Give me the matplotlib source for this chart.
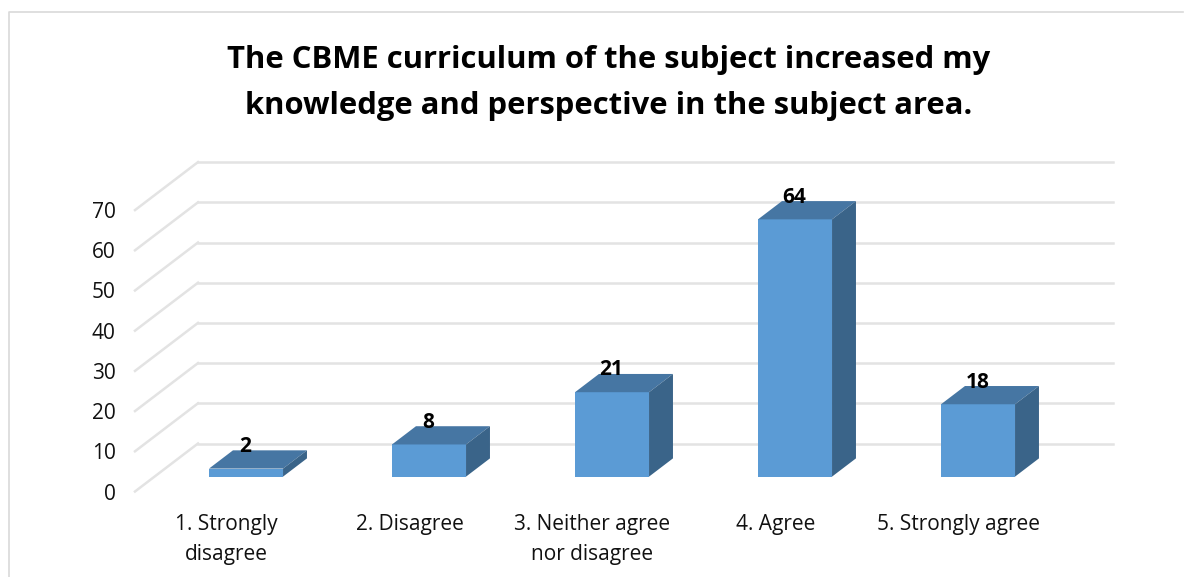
import matplotlib
matplotlib.use("Agg")
import matplotlib.pyplot as plt
from matplotlib.patches import Polygon

categories = ["1. Strongly\ndisagree", "2. Disagree", "3. Neither agree\nnor disagree", "4. Agree", "5. Strongly agree"]
values = [2, 8, 21, 64, 18]
y_ticks = [0, 10, 20, 30, 40, 50, 60, 70]
title = "The CBME curriculum of the subject increased my\nknowledge and perspective in the subject area."

W, H = 1194, 577
plt.rcParams["font.family"] = ["Open Sans", "DejaVu Sans"]

GRID = "#e3e3e3"
FRONT = "#5b9bd5"
TOP = "#4676a3"
SIDE = "#3a6489"

# 3d look: the wall is shifted by this much in data units
cat_px = 183.0
val_px = 4.02
depth_x = 63 / cat_px
depth_y = 48 / val_px
bar_w = 74 / cat_px
bar_front = 0.31
bar_back = 0.69

fig = plt.figure(figsize=(W / 100, H / 100), dpi=100)

# axes is the front plane of the 3d box
left, bottom = 135, H - 491.5
ax = fig.add_axes([left / W, bottom / H, 5 * cat_px / W, 70 * val_px / H])
ax.set_xlim(-0.5, 4.5)
ax.set_ylim(0, 70)
ax.patch.set_alpha(0)
for s in ax.spines.values():
  s.set_visible(False)

for t in y_ticks:
  ax.plot([-0.5, -0.5 + depth_x], [t, t + depth_y], color=GRID, lw=1.8, clip_on=False, zorder=1)
  ax.plot([-0.5 + depth_x, 4.5 + depth_x], [t + depth_y, t + depth_y], color=GRID, lw=1.8, clip_on=False, zorder=1)

for i, v in enumerate(values):
  dx0 = depth_x * bar_front
  dy0 = depth_y * bar_front
  dx1 = depth_x * bar_back
  dy1 = depth_y * bar_back
  l = i - bar_w / 2 + dx0
  r = i + bar_w / 2 + dx0
  ax.bar(l, v, width=bar_w, bottom=dy0, align="edge", color=FRONT, clip_on=False, zorder=3)
  shift_x = dx1 - dx0
  shift_y = dy1 - dy0
  ax.add_patch(Polygon([(l, v + dy0), (r, v + dy0), (r + shift_x, v + dy0 + shift_y), (l + shift_x, v + dy0 + shift_y)],
                       closed=True, fc=TOP, ec="none", clip_on=False, zorder=3))
  ax.add_patch(Polygon([(r, dy0), (r + shift_x, dy0 + shift_y), (r + shift_x, v + dy0 + shift_y), (r, v + dy0)],
                       closed=True, fc=SIDE, ec="none", clip_on=False, zorder=3))
  ax.annotate(str(v), (i + dx0, v + dy0), xytext=(-0.5, 16), textcoords="offset points", ha="center", va="center",
              fontsize=15, fontweight="bold", color="black", zorder=5, annotation_clip=False)

ax.set_xticks(range(len(categories)))
ax.set_xticklabels(categories, fontsize=15, color="#111111", linespacing=1.55, va="top")
ax.set_yticks(y_ticks)
ax.tick_params(axis="both", length=0)
ax.tick_params(axis="x", pad=16)
ax.tick_params(axis="y", pad=14, labelsize=15, labelcolor="#111111")

fig.text(609 / W, 1 - 83 / H, title, ha="center", va="center", fontsize=22.3, fontweight="bold", color="black", linespacing=1.7)

fig.add_artist(plt.Line2D([8.5 / W, 8.5 / W, 1183 / W], [0, 1 - 11.5 / H, 1 - 11.5 / H], color="#d9d9d9", lw=1.2))

fig.savefig("out.png", dpi=100, facecolor="white")
